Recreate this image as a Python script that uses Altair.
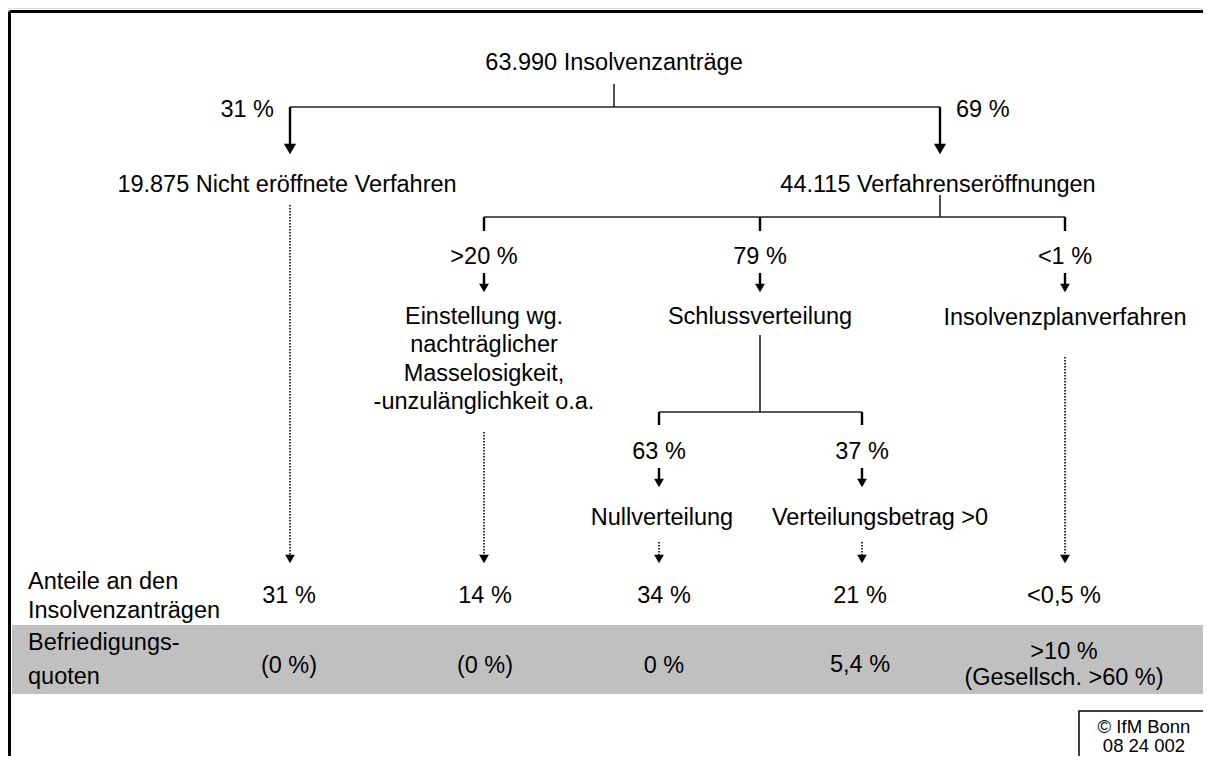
import altair as alt
import pandas as pd

# ---------------- content ----------------
root_label = "63.990 Insolvenzanträge"
level1_labels = ["19.875 Nicht eröffnete Verfahren", "44.115 Verfahrenseröffnungen"]
level1_pcts = ["31 %", "69 %"]
level2_pcts = [">20 %", "79 %", "<1 %"]
level2_labels = [["Einstellung wg.", "nachträglicher", "Masselosigkeit,", "-unzulänglichkeit o.a."],
                 ["Schlussverteilung"], ["Insolvenzplanverfahren"]]
level3_pcts = ["63 %", "37 %"]
level3_labels = ["Nullverteilung", "Verteilungsbetrag >0"]
anteile = ["31 %", "14 %", "34 %", "21 %", "<0,5 %"]
quoten = [["(0 %)"], ["(0 %)"], ["0 %"], ["5,4 %"], [">10 %", "(Gesellsch. >60 %)"]]
row_label_anteile = ["Anteile an den", "Insolvenzanträgen"]
row_label_quoten = ["Befriedigungs-", "quoten"]
credit_lines = ["© IfM Bonn", "08  24  002"]

# ---------------- layout (pixel positions of the diagram) ----------------
FONT = "Liberation Sans"
FS = 23.5
root_x, root_y = 614, 61
l1_x = [290, 940]
l1_text_x = [287, 938]
l1_y = 183
bar1_y = 107
l2_x = [484, 760, 1065]
bar2_y = 217
l2_pct_y = 255
l2_text_y = [315, 315, 316]
line_h = 28.5
bar3_y = 412
l3_x = [659, 862]
l3_text_x = [662, 880]
l3_pct_y = 450
l3_text_y = 516
col_x = [290, 484, 659, 862, 1065]
col_text_x = [289, 485, 664, 860, 1064]
anteile_y = 594
quoten_y = [[664], [664], [664], [663], [650, 676]]
head_y = 559

# plot area in page pixels
X0, X1 = 8, 1203
Y0, Y1 = 8, 756

# ---------------- build tables ----------------
texts = []
def add_text(t, x, y, al="center"):
    texts.append(dict(t=t, x=x, y=y, al=al))

add_text(root_label, root_x, root_y)
for lab, x in zip(level1_labels, l1_text_x):
    add_text(lab, x, l1_y)
add_text(level1_pcts[0], 274, 108, "right")
add_text(level1_pcts[1], 956, 108, "left")
for p, x in zip(level2_pcts, l2_x):
    add_text(p, x, l2_pct_y)
for lines, x, y0 in zip(level2_labels, l2_x, l2_text_y):
    for i, ln in enumerate(lines):
        add_text(ln, x, y0 + i * line_h)
for p, x in zip(level3_pcts, l3_x):
    add_text(p, x, l3_pct_y)
for lab, x in zip(level3_labels, l3_text_x):
    add_text(lab, x, l3_text_y)
for v, x in zip(anteile, col_text_x):
    add_text(v, x, anteile_y)
for vs, x, ys in zip(quoten, col_text_x, quoten_y):
    for v, y in zip(vs, ys):
        add_text(v, x, y)
for ln, y in zip(row_label_anteile, [580, 609]):
    add_text(ln, 28, y, "left")
for ln, y in zip(row_label_quoten, [641, 675]):
    add_text(ln, 28, y, "left")
text_df = pd.DataFrame(texts)
text_df["y"] = text_df["y"] + 1.5
credit_df = pd.DataFrame(dict(t=credit_lines, x=[1144, 1144], y=[727, 746]))

# thin connectors
conn = [
    (root_x, 84, root_x, bar1_y),
    (l1_x[0], bar1_y, l1_x[1], bar1_y),
    (l1_x[1], 195, l1_x[1], bar2_y),
    (l2_x[0], bar2_y, l2_x[2], bar2_y),
    (l2_x[1], 335, l2_x[1], bar3_y),
    (l3_x[0], bar3_y, l3_x[1], bar3_y),
]
# thicker stems (ticks and arrow shafts)
stems = [(x, bar1_y, x, 145) for x in l1_x]
stems += [(x, bar2_y, x, 231) for x in l2_x]
stems += [(x, 273, x, 285) for x in l2_x]
stems += [(x, bar3_y, x, 425) for x in l3_x]
stems += [(x, 468, x, 480) for x in l3_x]
# dotted leaders
dots = [(290, 205), (484, 432), (659, 542), (862, 542), (1065, 357)]
dotted = [(x, y0, x, 555) for x, y0 in dots]
# arrow heads
heads_big = [(x, 149) for x in l1_x]
heads_small = [(x, 288) for x in l2_x] + [(x, 483) for x in l3_x] + [(x, head_y) for x in col_x]

def seg_df(rows):
    return pd.DataFrame(rows, columns=["x", "y", "x2", "y2"])

xs = alt.Scale(domain=[X0, X1], nice=False, zero=False)
ys = alt.Scale(domain=[Y0, Y1], nice=False, zero=False, reverse=True)
X = lambda f="x": alt.X(f"{f}:Q", scale=xs, axis=None)
Y = lambda f="y": alt.Y(f"{f}:Q", scale=ys, axis=None)

band = alt.Chart(pd.DataFrame([dict(x=12, x2=X1, y=625, y2=694)])).mark_rect(
    color="#C0C0C0", clip=True).encode(x=X(), x2="x2:Q", y=Y(), y2="y2:Q")

frame = alt.Chart(seg_df([(9.5, 11.5, X1, 11.5), (9.5, 11.5, 9.5, Y1)])).mark_rule(
    color="black", strokeWidth=3, clip=True).encode(x=X(), x2="x2:Q", y=Y(), y2="y2:Q")

conn_l = alt.Chart(seg_df(conn)).mark_rule(color="#222222", strokeWidth=1.6).encode(
    x=X(), x2="x2:Q", y=Y(), y2="y2:Q")
stem_l = alt.Chart(seg_df(stems)).mark_rule(color="black", strokeWidth=2.4).encode(
    x=X(), x2="x2:Q", y=Y(), y2="y2:Q")
dot_l = alt.Chart(seg_df(dotted)).mark_rule(color="black", strokeWidth=1.6, strokeDash=[1.5, 1.5]).encode(
    x=X(), x2="x2:Q", y=Y(), y2="y2:Q")

hb = alt.Chart(pd.DataFrame(heads_big, columns=["x", "y"])).mark_point(
    shape="triangle-down", filled=True, color="black", size=150, opacity=1).encode(x=X(), y=Y())
hs = alt.Chart(pd.DataFrame(heads_small, columns=["x", "y"])).mark_point(
    shape="triangle-down", filled=True, color="black", size=95, opacity=1).encode(x=X(), y=Y())

credit_box = alt.Chart(pd.DataFrame([dict(x=1079, x2=X1 + 6, y=711, y2=Y1 + 6)])).mark_rect(
    fill="white", stroke="black", strokeWidth=1.5, clip=True).encode(x=X(), x2="x2:Q", y=Y(), y2="y2:Q")

def text_layer(al):
    return alt.Chart(text_df[text_df["al"] == al]).mark_text(
        font=FONT, fontSize=FS, color="black", align=al, baseline="middle").encode(
        x=X(), y=Y(), text="t:N")

credit_t = alt.Chart(credit_df).mark_text(
    font=FONT, fontSize=18.5, color="black", align="center", baseline="middle").encode(
    x=X(), y=Y(), text="t:N")

chart = alt.layer(band, frame, conn_l, stem_l, dot_l, hb, hs, credit_box,
                  text_layer("center"), text_layer("left"), text_layer("right"), credit_t).properties(
    width=X1 - X0, height=Y1 - Y0, padding=0
).configure_view(stroke=None).configure(background="white")

chart.save("out.html", embed_options={"renderer": "svg", "actions": False})
